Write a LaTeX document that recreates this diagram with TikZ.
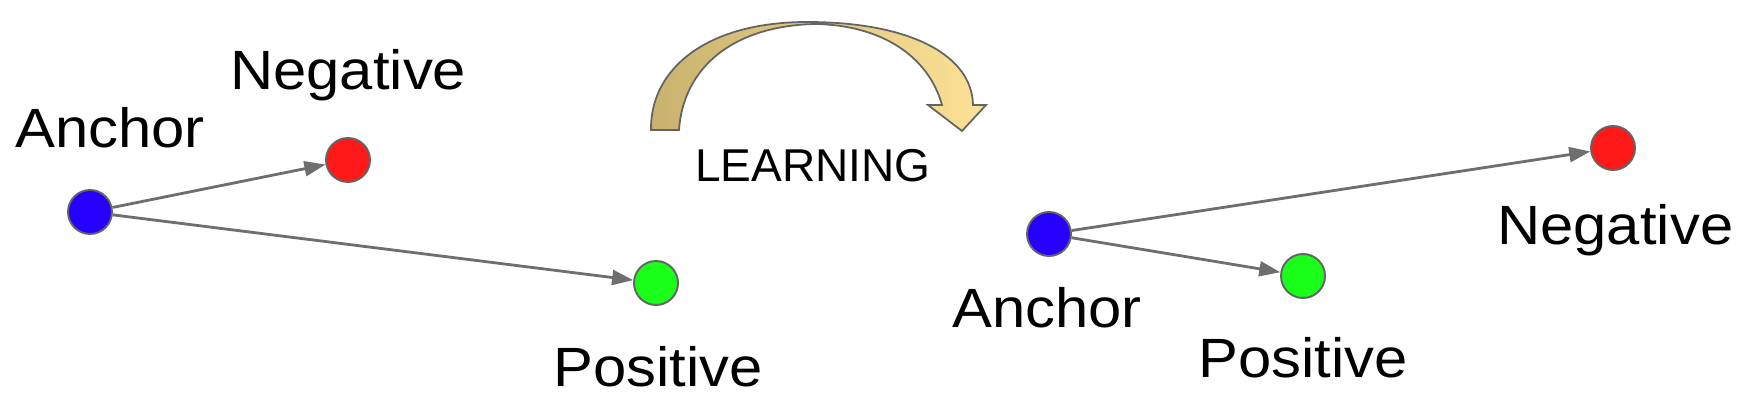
\documentclass[tikz,border=0pt]{standalone}
\usepackage{fontspec}
\setmainfont{Liberation Sans}
\usetikzlibrary{arrows.meta}
\definecolor{ablue}{RGB}{38,0,255}
\definecolor{ared}{RGB}{255,25,25}
\definecolor{agreen}{RGB}{25,255,25}
\definecolor{rim}{RGB}{100,100,100}
\definecolor{conncol}{RGB}{110,110,110}
\definecolor{tanL}{RGB}{200,178,110}
\definecolor{tanR}{RGB}{252,226,150}
\newcommand\sx[1]{\scalebox{1.08}[1]{#1}}
\begin{document}
\begin{tikzpicture}[x=0.02cm,y=-0.02cm,
  dot/.style={circle,draw=rim,line width=1.1pt,minimum size=0.88cm,inner sep=0},
  lbl/.style={anchor=base west,inner sep=0,font=\fontsize{31.5}{36}\selectfont},
  conn/.style={draw=conncol,line width=1.6pt,-{Triangle[length=12pt,width=8.5pt]}}]
\useasboundingbox (0,0) rectangle (1750,411);
% left configuration
\node[dot,fill=ablue] (la) at (90,212) {};
\node[dot,fill=ared] (ln) at (348,160) {};
\node[dot,fill=agreen] (lp) at (656,283) {};
\node[lbl] (tla) at (15,148) {\sx{Anchor}};
\node[lbl] (tln) at (230,90) {\sx{Negative}};
\node[lbl] (tlp) at (553,387) {\sx{Positive}};
\draw[conn] (la) -- (ln);
\draw[conn] (la) -- (lp);
% curved arrow
\path[draw=rim,line width=1pt,left color=tanL,right color=tanR]
  (651,130) .. controls (650,70) and (705,22) .. (807,22)
  .. controls (910,22) and (972,55) .. (973,105)
  -- (986,105) -- (962,131) -- (928,105) -- (942,105)
  .. controls (928,55) and (880,25) .. (815,24)
  .. controls (730,26) and (683,70) .. (679,130) -- cycle;
\node[anchor=base west,inner sep=0,font=\fontsize{26.2}{30}\selectfont] (learn) at (695,182) {LEARNING};
% right configuration
\node[dot,fill=ablue] (ra) at (1049,234) {};
\node[dot,fill=ared] (rn) at (1613,148) {};
\node[dot,fill=agreen] (rp) at (1303,276) {};
\node[lbl] (tra) at (952,328) {\sx{Anchor}};
\node[lbl] (trn) at (1497,245) {\sx{Negative}};
\node[lbl] (trp) at (1198,378) {\sx{Positive}};
\draw[conn] (ra) -- (rn);
\draw[conn] (ra) -- (rp);
\end{tikzpicture}
\end{document}
